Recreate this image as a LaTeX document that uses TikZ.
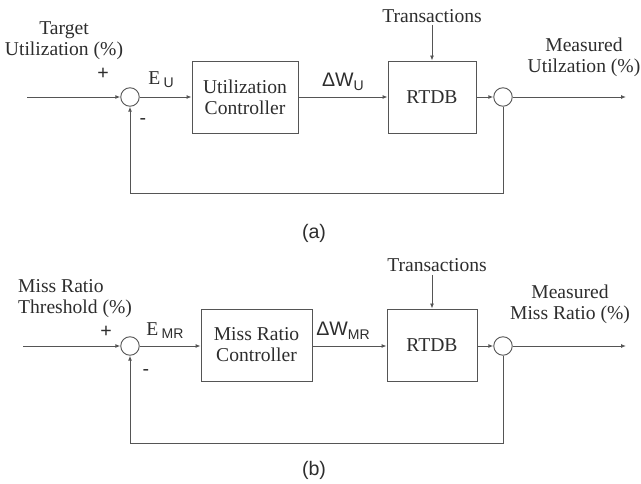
\documentclass[tikz,border=0pt]{standalone}
\usepackage{fontspec}
\setmainfont{Liberation Serif}
\setsansfont{Liberation Sans}
\usetikzlibrary{arrows.meta}
\definecolor{ln}{RGB}{85,85,85}
\definecolor{tx}{RGB}{45,45,45}
\begin{document}
\begin{tikzpicture}[x=1pt,y=-1pt,
  every node/.style={text=tx,font=\fontsize{19.6}{21}\selectfont},
  blk/.style={draw=ln,line width=0.9pt,minimum height=72pt,inner sep=0pt,align=center},
  sumc/.style={draw=ln,line width=0.9pt,circle,minimum size=18.5pt,inner sep=0pt},
  conn/.style={draw=ln,line width=0.9pt},
  arr/.style={conn,-{Latex[length=5pt,width=4pt]}},
  sfl/.style={font=\fontsize{19.6}{21}\selectfont\sffamily},
  lbl/.style={inner sep=0pt,align=center}]
\useasboundingbox (0,0) rectangle (641,484);
% ---------- panel (a)
\node[sumc] (sa) at (130,97) {};
\node[blk,minimum width=106pt] (ca) at (245,97) {Utilization\\Controller};
\node[blk,minimum width=88pt] (ra) at (432,97) {RTDB};
\node[sumc] (ma) at (503,97) {};
\coordinate (ina) at (27,97);
\coordinate (outa) at (626,97);
\coordinate (fba) at (130,193);
\coordinate (fbra) at (503,193);
\node[lbl] (ta) at (432,16) {Transactions};
\node[lbl] (tua) at (64,41) {Target\\Utilization (\%)};
\node[lbl] (mua) at (584,57) {Measured\\Utilzation (\%)};
\node[lbl,sfl] (pa) at (103,74) {+};
\node[lbl,sfl] (na) at (143,122) {-};
\node[lbl] (eua) at (161,80) {E\,\raisebox{-3pt}{\sffamily\fontsize{14}{14}\selectfont U}};
\node[lbl,sfl] (dwa) at (343,82) {ΔW\raisebox{-4pt}{\fontsize{14}{14}\selectfont U}};
\node[lbl,sfl] (la) at (314,233) {(a)};
\draw[arr] (ina) -- (sa);
\draw[arr] (sa) -- (ca);
\draw[arr] (ca) -- (ra);
\draw[arr] (ra) -- (ma);
\draw[arr] (ma) -- (outa);
\draw[arr] (ta.south) ++(0,2) -- (ra.north);
\draw[arr] (ma.south) -- (fbra) -- (fba) -- (sa.south);
% ---------- panel (b)
\node[sumc] (sb) at (130,346) {};
\node[blk,minimum width=111pt] (cb) at (256.5,345) {Miss Ratio\\Controller};
\node[blk,minimum width=90pt] (rb) at (432,345) {RTDB};
\node[sumc] (mb) at (503,346) {};
\coordinate (inb) at (23,346);
\coordinate (outb) at (626,346);
\coordinate (fbb) at (130,443);
\coordinate (fbrb) at (503,443);
\node[lbl] (tb) at (437,265) {Transactions};
\node[lbl,align=left,anchor=west] (trb) at (18,299) {Miss Ratio\\Threshold (\%)};
\node[lbl] (mmb) at (570,304) {Measured\\Miss Ratio (\%)};
\node[lbl,sfl] (pb) at (106,332) {+};
\node[lbl,sfl] (nb) at (146,373) {-};
\node[lbl] (emb) at (165,331) {E\,\raisebox{-3pt}{\sffamily\fontsize{14}{14}\selectfont MR}};
\node[lbl,sfl] (dwb) at (343,331) {ΔW\raisebox{-4pt}{\fontsize{14}{14}\selectfont MR}};
\node[lbl,sfl] (lb) at (314,470) {(b)};
\draw[arr] (inb) -- (sb);
\draw[arr] (sb) -- (cb.west |- sb);
\draw[arr] (cb.east |- sb) -- (rb.west |- sb);
\draw[arr] (rb.east |- mb) -- (mb);
\draw[arr] (mb) -- (outb);
\draw[arr] (432,275) -- (rb.north);
\draw[arr] (mb.south) -- (fbrb) -- (fbb) -- (sb.south);
\end{tikzpicture}
\end{document}
